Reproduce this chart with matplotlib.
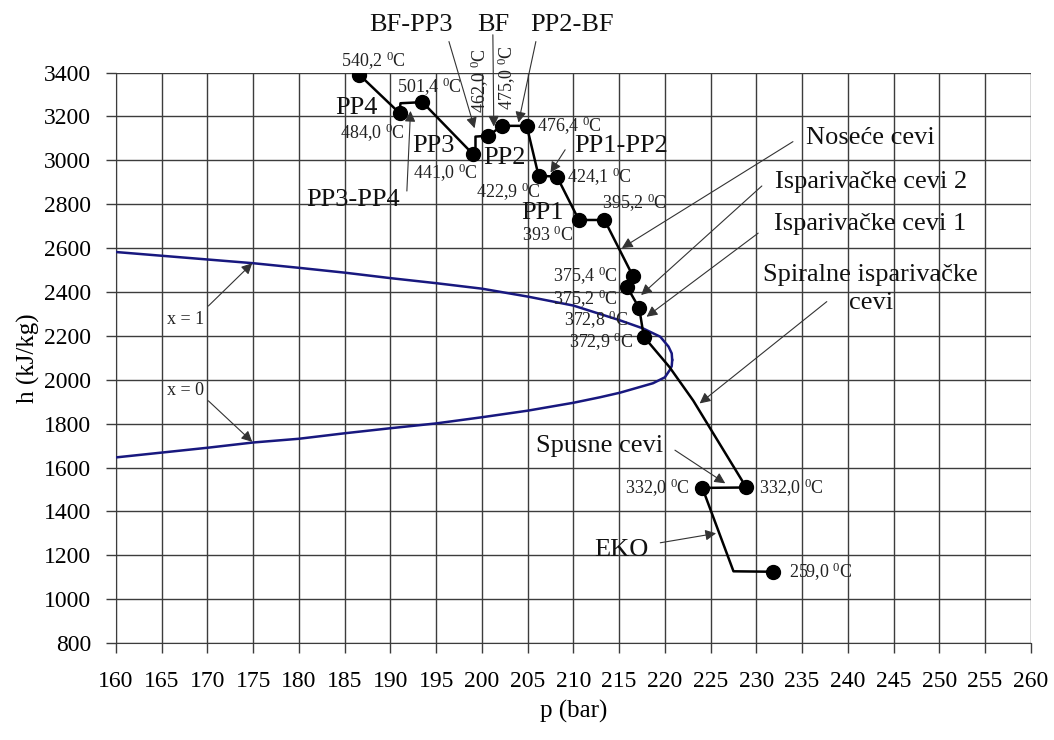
import numpy as np
import matplotlib
matplotlib.use('Agg')
import matplotlib.pyplot as plt

plt.rcParams['font.family'] = ['Liberation Serif', 'DejaVu Serif']
plt.rcParams['mathtext.fontset'] = 'custom'
plt.rcParams['mathtext.rm'] = 'Liberation Serif'
plt.rcParams['mathtext.it'] = 'Liberation Serif'

# linija zasićenja (x = 1 i x = 0)
p_x1 = [160, 165, 170, 175, 180, 185, 190, 195, 200, 205, 210, 215, 217.6, 219.5, 220.4, 220.75, 220.8]
h_x1 = [2582, 2565, 2548, 2531, 2510, 2488, 2463, 2440, 2415, 2379, 2338, 2272, 2234, 2196, 2151, 2120, 2090]
p_x0 = [220.8, 220.75, 220.55, 220.0, 218.7, 215.1, 212.9, 210, 205, 200, 195, 190, 185, 180, 175, 170, 165, 160]
h_x0 = [2090, 2062, 2045, 2011, 1984, 1941, 1920, 1895, 1859, 1829, 1801, 1779, 1756, 1731, 1714, 1690, 1668, 1646]

# promena stanja kroz kotao
p_path = [186.6, 191.0, 191.1, 193.5, 199.0, 199.3, 199.3, 200.7, 202.2, 204.9, 206.2, 208.2,
          210.6, 213.4, 216.5, 215.9, 217.2, 217.7, 220.5, 223.1, 228.9, 224.1,
          227.5, 231.8]
h_path = [3390, 3215, 3260, 3265, 3029, 3029, 3108, 3112, 3157, 3157, 2929, 2926,
          2728, 2728, 2473, 2421, 2326, 2196, 2058, 1905, 1509, 1507,
          1127, 1125]

# tacke sa markerom
p_dots = [186.6, 191.0, 193.5, 199.0, 200.7, 202.2, 204.9, 206.2, 208.2, 210.6, 213.4,
          216.5, 215.9, 217.2, 217.7, 228.9, 224.1, 231.8]
h_dots = [3390, 3215, 3265, 3029, 3112, 3157, 3157, 2929, 2926, 2728, 2728,
          2473, 2421, 2326, 2196, 1509, 1507, 1125]

deg = r' $^{0}$C'

fig = plt.figure(figsize=(10.54, 7.40), dpi=100)
ax = fig.add_axes([0.110, 0.131, 0.868, 0.771])

ax.plot(p_x1, h_x1, color='#18187f', lw=1.8, zorder=3)
ax.plot(p_x0, h_x0, color='#18187f', lw=1.8, zorder=3)
ax.plot(p_path, h_path, color='black', lw=1.8, zorder=4)
ax.plot(p_dots, h_dots, 'o', color='black', ms=10, zorder=5)

ax.set_xlim(160, 260)
ax.set_ylim(800, 3400)
ax.set_xticks(np.arange(160, 261, 5))
ax.set_yticks(np.arange(800, 3401, 200))
ax.grid(True, color='#3c3c3c', lw=1.0)
ax.set_axisbelow(True)
for s in ['top', 'right']:
    ax.spines[s].set_visible(False)
for s in ['left', 'bottom']:
    ax.spines[s].set_color('#3c3c3c')
ax.tick_params(direction='out', length=7, width=1, color='#3c3c3c', labelsize=17)
ax.tick_params(axis='x', pad=13)
ax.tick_params(axis='y', pad=11)
ax.set_xlabel('p (bar)', fontsize=18, labelpad=6)
ax.set_ylabel('h (kJ/kg)', fontsize=18, labelpad=3)

# temperature
small = 13
temps = [
    ('540,2', 188.1, 3455, 'center'), ('501,4', 194.3, 3336, 'center'),
    ('484,0', 188.0, 3124, 'center'), ('441,0', 196.0, 2941, 'center'),
    ('422,9', 202.9, 2857, 'center'), ('476,4', 209.6, 3157, 'center'),
    ('424,1', 212.9, 2926, 'center'), ('393', 207.2, 2660, 'center'),
    ('395,2', 216.7, 2804, 'center'), ('375,4', 211.3, 2475, 'center'),
    ('375,2', 211.3, 2368, 'center'), ('372,8', 212.5, 2272, 'center'),
    ('372,9', 213.0, 2173, 'center'), ('332,0', 222.7, 1505, 'right'),
    ('332,0', 230.3, 1505, 'left'), ('259,0', 233.6, 1125, 'left'),
]
for t, x, y, ha in temps:
    ax.text(x, y, t + deg, fontsize=small, ha=ha, va='center', color='#222222', zorder=6)
ax.text(199.8, 3362, '462,0' + deg, fontsize=small, rotation=90, ha='center', va='center', color='#222222')
ax.text(202.7, 3376, '475,0' + deg, fontsize=small, rotation=90, ha='center', va='center', color='#222222')

big = 19
labels = [
    ('BF-PP3', 192.3, 3617), ('BF', 201.2, 3617), ('PP2-BF', 209.8, 3617),
    ('PP4', 186.3, 3238), ('PP3', 194.7, 3063), ('PP3-PP4', 185.9, 2820),
    ('PP2', 202.5, 3010), ('PP1-PP2', 215.2, 3063), ('PP1', 206.6, 2759),
    ('Noseće cevi', 242.5, 3101), ('Isparivačke cevi 2', 242.5, 2903),
    ('Isparivačke cevi 1', 242.4, 2710), ('Spiralne isparivačke\ncevi', 242.5, 2412),
    ('Spusne cevi', 212.9, 1700), ('EKO', 215.2, 1223),
]
for t, x, y in labels:
    ax.text(x, y, t, fontsize=big, ha='center', va='center', linespacing=1.35,
            color='#111111', zorder=6)
ax.text(167.6, 2275, 'x = 1', fontsize=small, ha='center', va='center', color='#222222')
ax.text(167.6, 1950, 'x = 0', fontsize=small, ha='center', va='center', color='#222222')

arrows = [
    ((196.4, 3541), (199.2, 3146)), ((201.2, 3572), (201.3, 3154)),
    ((205.9, 3541), (204.0, 3172)), ((191.8, 2860), (192.2, 3225)),
    ((209.1, 3048), (207.5, 2944)), ((234.0, 3085), (215.3, 2600)),
    ((230.6, 2883), (217.4, 2386)), ((230.2, 2668), (218.0, 2287)),
    ((237.7, 2356), (223.8, 1892)), ((221.1, 1679), (226.6, 1528)),
    ((219.5, 1257), (225.6, 1300)), ((170.1, 2336), (174.9, 2531)),
    ((170.1, 1904), (174.9, 1717)),
]
for tail, tip in arrows:
    ax.annotate('', xy=tip, xytext=tail,
                arrowprops=dict(arrowstyle='-|>', color='#333333', lw=0.8,
                                mutation_scale=16, shrinkA=0, shrinkB=0), zorder=6)

fig.savefig('out.png', dpi=100)
